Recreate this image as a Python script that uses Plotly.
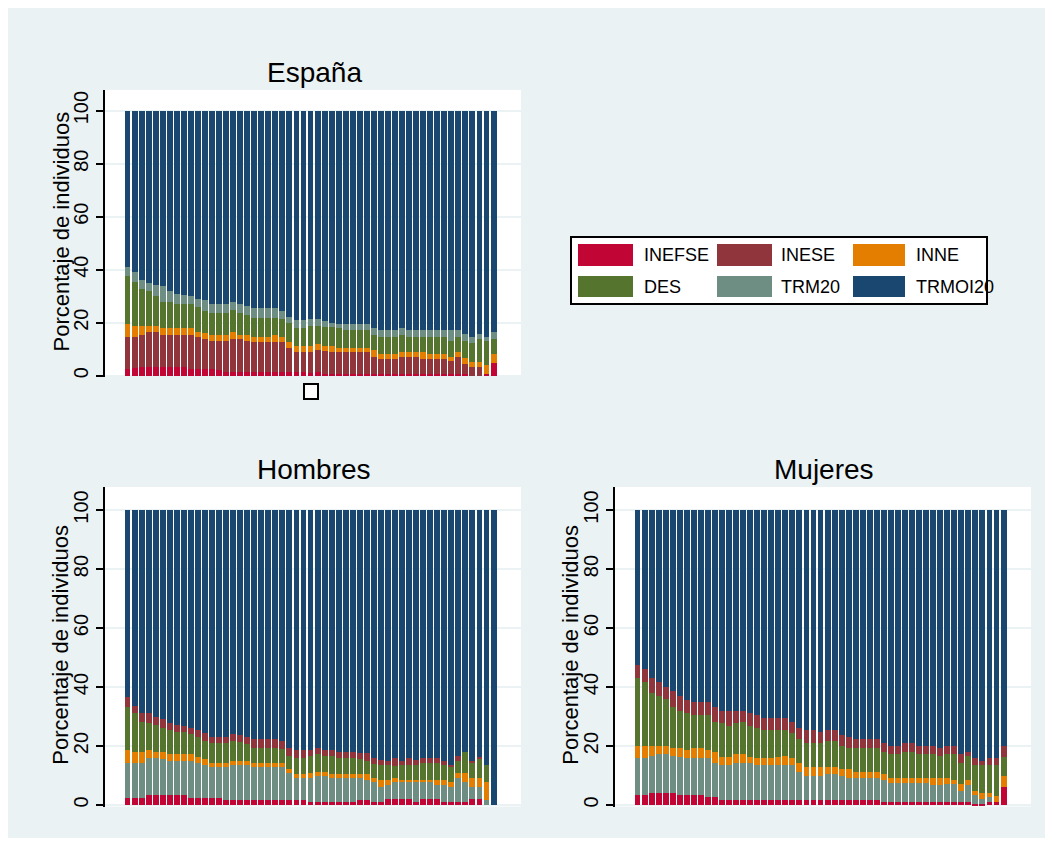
import plotly.graph_objects as go

# page offset of the figure (browser body margin) and figure size
OFF = 8
W, H = 1037, 830

# ---------------- data (percent of individuals, 53 consecutive periods) ----------------
periods = list(range(1, 54))
series = ["INEFSE", "INESE", "INNE", "DES", "TRM20", "TRMOI20"]

esp_INEFSE = [2.4, 2.8, 3.3, 3.3, 3.3, 3.3, 3.3, 3.2, 3.2, 2.4, 2.4, 2.4, 2.4, 2.1, 1.5, 1.5, 1.5, 1.5,
              1.5, 1.5, 1.5, 1.5, 1.5, 1.5, 1.5, 1.5, 0.9, 1.5, 0.6, 0.6, 0.6, 0.6, 0.6, 0.6, 0.6, 0.6,
              0.6, 0.6, 0.6, 0.6, 0.6, 0.6, 0.6, 0.6, 0.6, 0.6, 0.6, 0.6, 0.6, 0.0, 0.0, 0.6, 4.9]
esp_INESE = [12.3, 11.7, 12.0, 13.1, 13.1, 12.0, 12.0, 12.1, 12.1, 12.9, 12.3, 11.3, 10.7, 11.0, 11.6, 12.3,
             12.2, 11.6, 11.3, 11.3, 11.3, 11.3, 11.3, 9.1, 7.3, 7.3, 7.9, 8.2, 8.8, 8.2, 8.2, 8.2, 8.2,
             8.2, 8.2, 6.6, 5.7, 5.7, 5.7, 6.3, 6.6, 6.6, 5.7, 5.7, 5.7, 5.7, 5.1, 6.6, 3.7, 3.1, 3.1,
             0.0, 0.0]
esp_INNE = [4.8, 4.2, 3.4, 2.3, 2.3, 2.6, 2.6, 2.6, 2.6, 2.6, 1.9, 2.3, 2.2, 2.2, 2.2, 2.6, 1.6, 2.2,
            1.7, 1.7, 1.7, 2.5, 1.7, 2.2, 2.4, 2.4, 2.4, 2.2, 1.8, 2.4, 1.8, 1.8, 1.8, 1.8, 1.8, 2.5,
            1.9, 1.9, 1.9, 1.9, 1.6, 1.6, 2.5, 1.9, 1.9, 1.9, 1.2, 1.6, 2.2, 2.2, 2.2, 3.4, 3.3]
esp_DES = [18.1, 16.5, 14.0, 13.2, 11.5, 10.0, 9.8, 9.0, 9.0, 9.0, 9.2, 8.5, 8.5, 8.5, 8.5, 8.4, 8.5,
           7.6, 7.4, 7.4, 7.4, 6.6, 6.8, 6.9, 6.7, 6.7, 7.5, 6.8, 7.2, 7.0, 7.3, 6.6, 6.6, 6.6, 6.6,
           5.6, 6.3, 6.3, 6.3, 6.5, 5.7, 5.7, 5.7, 6.3, 6.3, 6.3, 6.3, 5.7, 6.7, 6.9, 8.5, 9.1, 5.6]
esp_TRM20 = [3.3, 3.8, 3.4, 3.2, 4.0, 5.9, 4.1, 4.0, 3.4, 3.0, 3.2, 4.1, 3.1, 3.1, 3.1, 2.9, 3.1, 3.4,
             3.5, 3.5, 3.5, 3.5, 3.1, 2.3, 3.1, 3.1, 2.6, 2.6, 2.2, 1.8, 1.6, 2.3, 2.3, 2.3, 2.3, 2.6,
             2.8, 2.8, 2.8, 2.6, 2.8, 2.8, 2.8, 2.8, 2.8, 2.8, 4.1, 2.8, 2.5, 2.5, 1.8, 1.6, 2.6]
esp_TRMOI20 = [59.1, 61.0, 63.9, 64.9, 65.8, 66.2, 68.2, 69.1, 69.7, 70.1, 71.0, 71.4, 73.1, 73.1, 73.1,
               72.3, 73.1, 73.7, 74.6, 74.6, 74.6, 74.6, 75.6, 78.0, 79.0, 79.0, 78.7, 78.7, 79.4, 80.0,
               80.5, 80.5, 80.5, 80.5, 80.5, 82.1, 82.7, 82.7, 82.7, 82.1, 82.7, 82.7, 82.7, 82.7, 82.7,
               82.7, 82.7, 82.7, 84.3, 85.3, 84.4, 85.3, 83.6]

hom_INEFSE = [2.5, 2.5, 2.5, 3.3, 3.3, 3.3, 3.3, 3.3, 3.3, 2.5, 2.5, 2.5, 2.3, 2.3, 1.7, 1.7, 1.7, 1.7,
              1.7, 1.7, 1.7, 1.7, 1.7, 1.7, 1.7, 1.7, 1.1, 1.1, 1.1, 1.1, 1.1, 1.1, 1.1, 1.7, 1.7, 1.1,
              1.1, 1.9, 1.9, 1.9, 1.9, 1.1, 1.9, 1.9, 1.9, 1.1, 1.1, 1.1, 1.1, 1.9, 1.9, 0.0, 0.0]
hom_INESE = [11.6, 11.6, 11.6, 12.5, 12.5, 12.2, 11.6, 11.6, 11.6, 12.4, 11.9, 11.1, 10.5, 10.5, 11.1,
             11.9, 11.9, 11.9, 11.1, 11.1, 11.1, 11.1, 11.1, 9.0, 7.6, 7.6, 8.2, 8.7, 8.7, 8.2, 8.2,
             8.2, 8.2, 7.6, 6.8, 6.6, 4.9, 4.9, 5.8, 5.8, 5.8, 6.6, 5.8, 5.8, 4.9, 5.7, 4.9, 8.2, 6.6,
             4.1, 4.1, 1.7, 0.0]
hom_INNE = [4.5, 3.8, 3.8, 2.8, 2.1, 2.4, 2.3, 2.3, 2.3, 2.3, 2.0, 2.0, 1.6, 1.6, 1.6, 1.4, 1.4, 1.4,
            1.6, 1.6, 1.6, 1.6, 1.6, 1.4, 1.2, 1.2, 1.4, 1.5, 1.5, 1.2, 1.2, 1.2, 1.2, 1.2, 2.0, 1.6,
            2.5, 1.7, 1.3, 0.8, 0.8, 0.8, 0.8, 0.8, 1.7, 1.7, 1.9, 1.4, 3.0, 3.0, 3.0, 6.2, 0.0]
hom_DES = [14.7, 13.4, 10.3, 9.1, 9.2, 8.3, 8.2, 7.4, 7.4, 6.8, 6.5, 6.1, 6.5, 6.5, 6.5, 6.8, 6.5, 5.6,
           5.0, 5.0, 5.0, 5.0, 4.5, 4.5, 5.3, 5.3, 5.9, 6.0, 5.3, 6.1, 5.3, 5.3, 5.3, 5.0, 4.5, 4.5,
           5.1, 5.1, 4.2, 5.1, 5.1, 5.1, 5.9, 5.9, 5.9, 5.1, 4.9, 4.3, 7.3, 5.4, 6.8, 5.7, 0.0]
hom_TRM20 = [3.2, 2.3, 3.1, 3.6, 2.6, 2.8, 2.3, 2.5, 2.2, 2.0, 2.7, 2.8, 2.3, 2.0, 2.0, 2.2, 2.2, 2.3,
             2.9, 2.9, 2.9, 2.9, 2.8, 2.8, 2.8, 2.8, 2.0, 1.9, 2.0, 2.0, 2.3, 2.3, 2.3, 2.2, 2.5, 2.0,
             1.7, 1.4, 2.6, 1.4, 2.2, 1.7, 1.4, 1.4, 1.4, 1.4, 0.8, 1.6, 0.0, 0.6, 0.6, 0.0, 0.0]
hom_TRMOI20 = [63.5, 66.4, 68.7, 68.7, 70.3, 71.0, 72.3, 72.9, 73.2, 74.0, 74.4, 75.5, 76.8, 77.1, 77.1,
               76.0, 76.3, 77.1, 77.7, 77.7, 77.7, 77.7, 78.3, 80.6, 81.4, 81.4, 81.4, 80.8, 81.4, 81.4,
               81.9, 81.9, 81.9, 82.3, 82.5, 84.2, 84.7, 85.0, 84.2, 85.0, 84.2, 84.7, 84.2, 84.2, 84.2,
               85.0, 86.4, 83.4, 82.0, 85.0, 83.6, 86.4, 100.0]

muj_INEFSE = [3.4, 3.4, 4.0, 4.0, 4.0, 4.0, 3.4, 3.4, 3.4, 3.4, 2.6, 2.6, 1.7, 1.7, 1.7, 1.7, 1.7, 1.7,
              1.7, 1.7, 1.7, 1.7, 1.7, 1.7, 1.7, 1.7, 1.7, 1.7, 1.7, 1.7, 1.7, 1.7, 1.7, 1.7, 1.7, 1.1,
              1.1, 1.1, 1.1, 1.1, 1.1, 1.1, 1.1, 1.1, 1.1, 1.1, 1.1, 1.1, 0.3, 0.3, 1.1, 1.1, 6.2]
muj_INESE = [12.4, 12.4, 12.6, 13.3, 13.3, 12.6, 12.8, 12.4, 12.4, 12.4, 13.2, 11.5, 11.9, 11.9, 12.4,
             12.4, 12.4, 11.9, 11.9, 11.9, 11.9, 11.9, 11.9, 9.6, 8.2, 8.2, 8.2, 8.8, 8.8, 8.2, 7.6,
             7.6, 7.6, 7.6, 7.6, 7.4, 6.5, 6.5, 6.5, 6.5, 6.5, 6.5, 5.7, 5.7, 5.9, 5.9, 3.6, 5.7, 3.1,
             1.6, 1.7, 0.0, 0.0]
muj_INNE = [4.3, 4.3, 3.5, 2.8, 2.8, 2.6, 3.0, 2.8, 3.6, 3.6, 2.8, 4.0, 2.8, 2.8, 3.2, 3.2, 2.3, 2.2,
            2.2, 2.2, 2.8, 3.0, 2.2, 2.8, 2.9, 2.9, 2.9, 2.3, 2.3, 2.2, 2.8, 2.0, 2.0, 2.0, 2.0, 2.0,
            1.4, 1.4, 1.4, 1.4, 1.4, 1.4, 2.2, 2.2, 2.0, 1.5, 2.3, 1.7, 1.3, 2.1, 1.2, 2.1, 3.6]
muj_DES = [22.8, 21.5, 17.8, 17.0, 15.7, 14.1, 12.7, 12.5, 11.1, 11.1, 11.9, 10.1, 11.3, 10.4, 10.4,
           10.9, 10.4, 10.4, 9.6, 9.6, 9.0, 8.8, 8.7, 8.3, 8.1, 8.1, 8.1, 8.9, 8.9, 8.0, 7.3, 8.1, 8.1,
           8.1, 8.1, 7.6, 8.3, 8.3, 9.1, 9.1, 8.3, 8.3, 8.3, 7.6, 8.3, 8.8, 7.1, 8.1, 8.9, 9.6, 9.6,
           10.4, 6.6]
muj_TRM20 = [4.6, 4.4, 5.0, 4.5, 4.3, 5.3, 5.2, 4.5, 4.3, 4.3, 4.3, 5.1, 4.2, 5.1, 4.2, 3.7, 4.3, 4.3,
             4.2, 4.2, 4.2, 4.2, 3.7, 3.8, 4.5, 4.5, 4.0, 3.7, 3.7, 3.6, 3.5, 2.9, 2.9, 2.9, 2.9, 2.8,
             2.8, 2.8, 2.8, 2.8, 2.8, 2.8, 2.8, 2.8, 2.8, 2.8, 3.2, 1.5, 2.2, 1.4, 2.2, 2.2, 3.7]
muj_TRMOI20 = [52.5, 54.0, 57.1, 58.4, 59.9, 61.4, 62.9, 64.4, 65.2, 65.2, 65.2, 66.7, 68.1, 68.1, 68.1,
               68.1, 68.9, 69.5, 70.4, 70.4, 70.4, 70.4, 71.8, 73.8, 74.6, 74.6, 75.1, 74.6, 74.6, 76.3,
               77.1, 77.7, 77.7, 77.7, 77.7, 79.1, 79.9, 79.9, 79.1, 79.1, 79.9, 79.9, 79.9, 80.6, 79.9,
               79.9, 82.7, 81.9, 84.2, 85.0, 84.2, 84.2, 79.9]

panels = [
    ("España", "x", "y", [esp_INEFSE, esp_INESE, esp_INNE, esp_DES, esp_TRM20, esp_TRMOI20]),
    ("Hombres", "x2", "y2", [hom_INEFSE, hom_INESE, hom_INNE, hom_DES, hom_TRM20, hom_TRMOI20]),
    ("Mujeres", "x3", "y3", [muj_INEFSE, muj_INESE, muj_INNE, muj_DES, muj_TRM20, muj_TRMOI20]),
]

# ---------------- styles ----------------
COL = {"INEFSE": "#C10534", "INESE": "#90353B", "INNE": "#E37E00",
       "DES": "#55752F", "TRM20": "#6E8E84", "TRMOI20": "#1A476F"}
# In the sex panels the 2nd and 5th series swap colours (as in the original graph)
COL_SEX = dict(COL, INESE="#6E8E84", TRM20="#90353B")
BG = "#EAF2F3"
FONT = "Liberation Sans, Arial, sans-serif"


def fx(px):  # page pixel -> paper x
    return (px - OFF) / W


def fy(py):  # page pixel -> paper y
    return 1 - (py - OFF) / H


# plot areas in page pixels: (left, right, top, bottom)
areas = {
    "x": (105, 521, 90, 377),
    "x2": (105, 521, 487, 806.5),
    "x3": (615, 1031, 487, 806.5),
}

fig = go.Figure()
for name, xa, ya, vals in panels:
    cmap = COL if name == "España" else COL_SEX
    for s, v in zip(series, vals):
        fig.add_trace(go.Bar(
            x=periods, y=v, name=s, xaxis=xa, yaxis=ya,
            marker=dict(color=cmap[s], line=dict(width=0)),
            showlegend=False, hovertemplate=s + ": %{y}<extra>" + name + "</extra>",
        ))

shapes = []
annotations = []

layout = dict(
    width=W, height=H, autosize=False,
    margin=dict(l=0, r=0, t=0, b=0),
    paper_bgcolor=BG, plot_bgcolor="white",
    barmode="stack", bargap=0.16,
    font=dict(family=FONT, color="black"),
)

for name, xa, ya, vals in panels:
    l, r, t, b = areas[xa]
    sfx = xa[1:]
    layout["xaxis" + sfx] = dict(
        domain=[fx(l), fx(r)], range=[-2.2, 56.9], showticklabels=False, ticks="",
        showgrid=False, zeroline=False, showline=False, anchor=ya, fixedrange=True,
    )
    layout["yaxis" + sfx] = dict(
        domain=[fy(b), fy(t)], range=[-0.5, 107.8], tickvals=[0, 20, 40, 60, 80, 100],
        tickangle=-90, ticks="outside", ticklen=7, tickwidth=1.5, tickcolor="black",
        showline=True, linecolor="black", linewidth=1.5, showgrid=True, gridcolor=BG,
        gridwidth=1.5, zeroline=False, tickfont=dict(size=20, color="black"), anchor=xa,
        fixedrange=True,
    )
    annotations.append(dict(text=name, xref="paper", yref="paper", x=fx((l + r) / 2 + 1),
                            y=fy(t - 18), xanchor="center", yanchor="middle", showarrow=False,
                            font=dict(size=28, color="black")))
    annotations.append(dict(text="Porcentaje de individuos", xref="paper", yref="paper",
                            x=fx(l - 44), y=fy((t + b) / 2 - 2), textangle=-90, xanchor="center",
                            yanchor="middle", showarrow=False, font=dict(size=22, color="black")))

# legend (drawn as a key box like the original)
shapes.append(dict(type="rect", xref="paper", yref="paper", x0=fx(571), x1=fx(987),
                   y0=fy(304), y1=fy(237), fillcolor="white", line=dict(color="black", width=2)))
leg_cols = [(578, 633, 642), (717, 772, 779), (853, 905, 914)]
leg_rows = [(244, 266), (276, 297)]
for i, s in enumerate(series):
    r_, c_ = divmod(i, 3)
    x0, x1, xt = leg_cols[c_]
    y0, y1 = leg_rows[r_]
    shapes.append(dict(type="rect", xref="paper", yref="paper", x0=fx(x0), x1=fx(x1),
                       y0=fy(y1), y1=fy(y0), fillcolor=COL[s], line=dict(width=0)))
    annotations.append(dict(text=s, xref="paper", yref="paper", x=fx(xt), y=fy((y0 + y1) / 2),
                            xanchor="left", yanchor="middle", showarrow=False,
                            font=dict(size=18, color="black")))

# small empty key square under the first panel
shapes.append(dict(type="rect", xref="paper", yref="paper", x0=fx(304), x1=fx(318),
                   y0=fy(399), y1=fy(384), fillcolor="white", line=dict(color="black", width=2)))

layout["shapes"] = shapes
layout["annotations"] = annotations
fig.update_layout(**layout)
fig.write_html("out.html")
